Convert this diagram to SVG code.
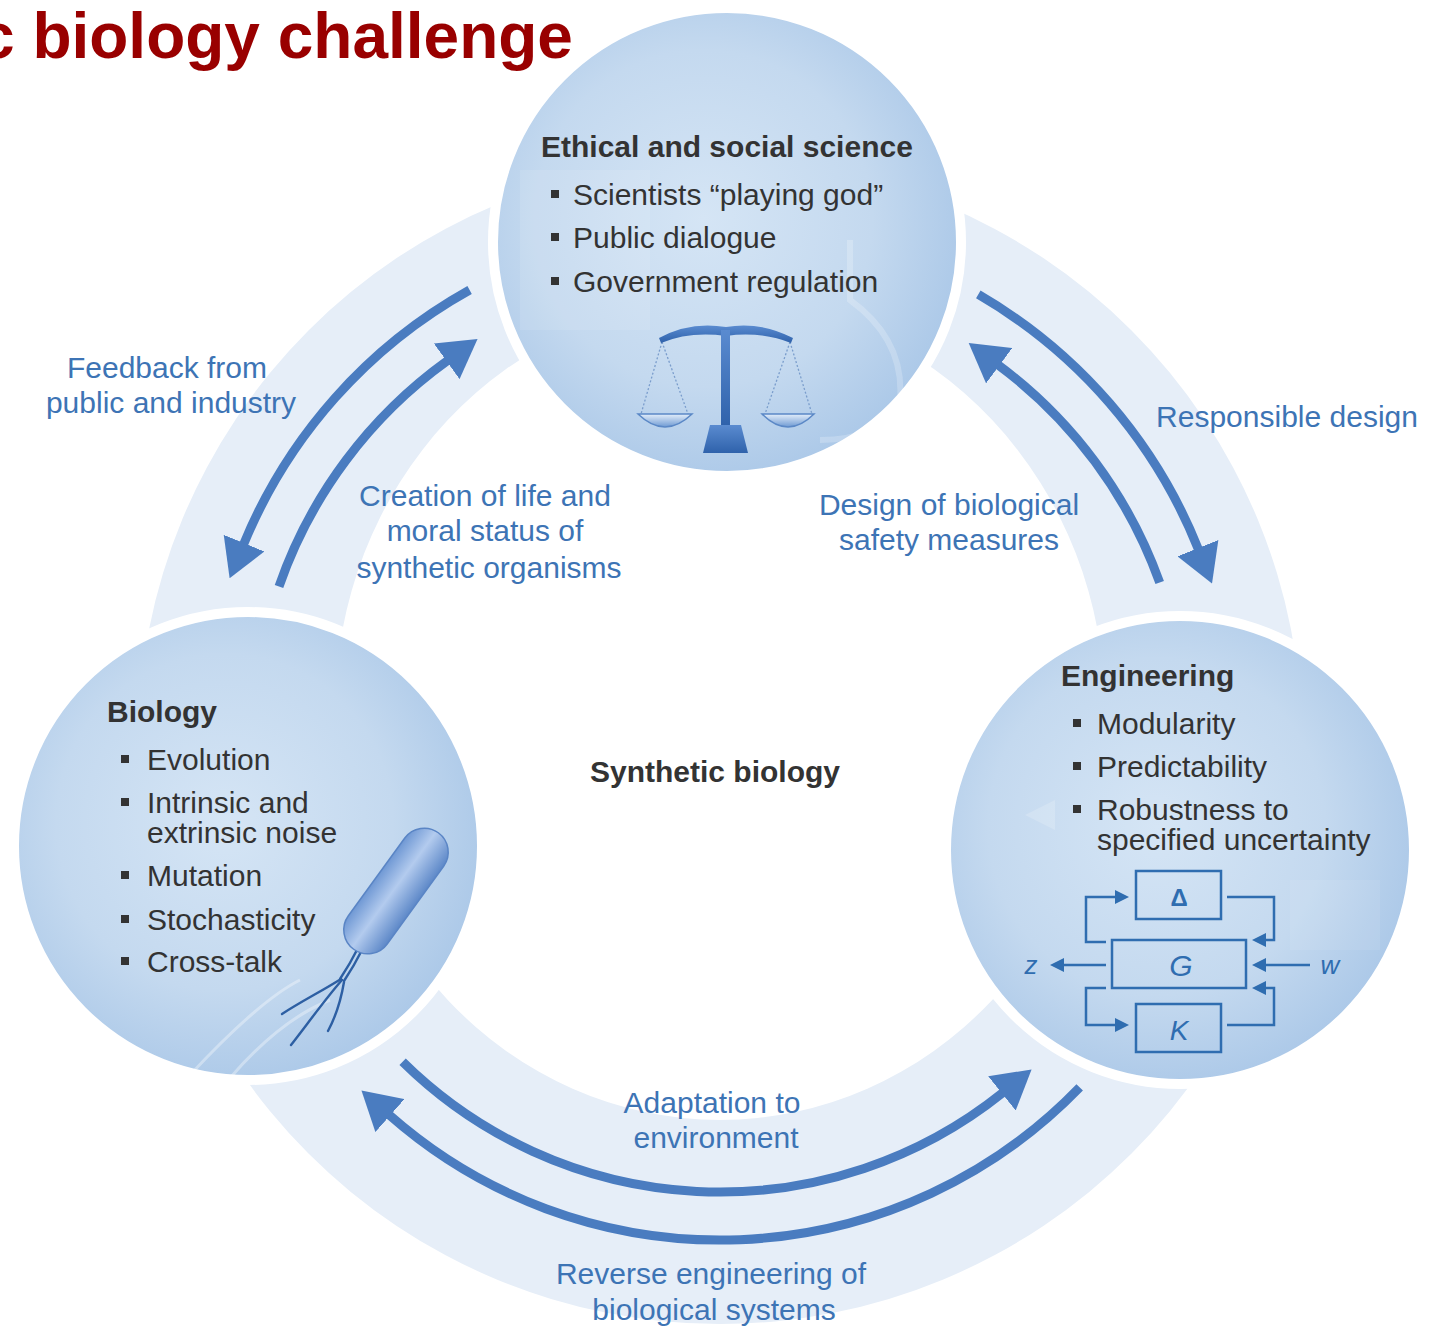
<svg xmlns="http://www.w3.org/2000/svg" width="1430" height="1327" viewBox="0 0 1430 1327">
  <defs>
    <radialGradient id="disc" cx="0.45" cy="0.45" r="0.6">
      <stop offset="0" stop-color="#d5e5f5"/>
      <stop offset="0.6" stop-color="#c4d9ef"/>
      <stop offset="1" stop-color="#a8c6e7"/>
    </radialGradient>
    <linearGradient id="cell" x1="0" y1="0" x2="0" y2="1">
      <stop offset="0" stop-color="#6f98d4"/>
      <stop offset="0.45" stop-color="#b3cbee"/>
      <stop offset="1" stop-color="#5d88c8"/>
    </linearGradient>
    <linearGradient id="metal" x1="0" y1="0" x2="0" y2="1">
      <stop offset="0" stop-color="#5a8bd0"/>
      <stop offset="1" stop-color="#2f62ab"/>
    </linearGradient>
    <linearGradient id="pan" x1="0" y1="0" x2="0" y2="1">
      <stop offset="0" stop-color="#e3eefa"/>
      <stop offset="1" stop-color="#6f9ad3"/>
    </linearGradient>
    <marker id="head" viewBox="0 0 38 44" markerWidth="38" markerHeight="44" refX="1" refY="22" orient="auto" markerUnits="userSpaceOnUse">
      <path d="M0,0 L38,22 L0,44 Z" fill="#4a7cc0"/>
    </marker>
    <marker id="tip" viewBox="0 0 14 14" markerWidth="14" markerHeight="14" refX="1" refY="7" orient="auto" markerUnits="userSpaceOnUse">
      <path d="M0,0 L14,7 L0,14 Z" fill="#2f6db0"/>
    </marker>
  </defs>
  <style>
    .dark { font-family: "Liberation Sans", Arial, sans-serif; font-size: 30px; fill: #333333; }
    .head { font-weight: bold; }
    .lbl { font-family: "Liberation Sans", Arial, sans-serif; font-size: 30px; fill: #3d74b5; text-anchor: middle; }
    .disc { fill: url(#disc); stroke: #ffffff; stroke-width: 10; }
    .bul { fill: #333333; }
    .arc { fill: none; stroke: #4a7cc0; stroke-width: 9; marker-end: url(#head); }
    .box { fill: none; stroke: #2f6db0; stroke-width: 2.5; }
    .wire { fill: none; stroke: #2f6db0; stroke-width: 2.5; }
    .sym { font-family: "Liberation Sans", Arial, sans-serif; fill: #2f6db0; text-anchor: middle; }
  </style>

  <rect width="1430" height="1327" fill="#ffffff"/>

  <!-- heading, running off the left edge of the page -->
  <text x="-21" y="58" font-family="Liberation Sans, Arial, sans-serif" font-size="64" font-weight="bold" fill="#990000">c biology challenge</text>

  <!-- pale band that joins the three fields -->
  <path fill="#e6eef8" fill-rule="evenodd" d="M138,742 A582,582 0 1,0 1302,742 A582,582 0 1,0 138,742 Z M335,710 A385,410 0 1,0 1105,710 A385,410 0 1,0 335,710 Z"/>

  <!-- connectors -->
  <g id="connectors">
    <path class="arc" d="M469.6,290 A515,515 0 0,0 243.7,544.1"/>
    <path class="arc" d="M279,586.4 A467,467 0 0,1 447.5,360.7"/>
    <path class="arc" d="M978.3,294.4 A515,515 0 0,1 1198.3,549.1"/>
    <path class="arc" d="M1159.7,582.6 A467,467 0 0,0 998.4,365.1"/>
    <path class="arc" d="M402.6,1061.8 A452,452 0 0,0 1002.7,1092.7"/>
    <path class="arc" d="M1079.7,1087.4 A500,500 0 0,1 389.2,1114.9"/>
  </g>

  <!-- connector labels -->
  <g id="labels">
    <text class="lbl" x="167" y="378">Feedback from</text>
    <text class="lbl" x="171" y="413">public and industry</text>
    <text class="lbl" x="485" y="506">Creation of life and</text>
    <text class="lbl" x="485" y="541">moral status of</text>
    <text class="lbl" x="489" y="578">synthetic organisms</text>
    <text class="lbl" x="949" y="515">Design of biological</text>
    <text class="lbl" x="949" y="550">safety measures</text>
    <text class="lbl" x="1287" y="427">Responsible design</text>
    <text class="lbl" x="712" y="1113">Adaptation to</text>
    <text class="lbl" x="716" y="1148">environment</text>
    <text class="lbl" x="711" y="1284">Reverse engineering of</text>
    <text class="lbl" x="714" y="1320">biological systems</text>
  </g>

  <!-- Ethical and social science -->
  <g id="ethics">
    <circle class="disc" cx="727" cy="242" r="234"/>
    <path d="M520,170 H650 V330 H520 Z" fill="#ffffff" opacity="0.1"/>
    <path d="M850,240 V300 Q905,340 900,400 Q880,440 820,440" fill="none" stroke="#ffffff" stroke-width="6" opacity="0.22"/>
    <text class="dark head" x="541" y="157" font-size="29.5">Ethical and social science</text>
    <rect class="bul" x="551" y="190" width="8" height="8"/>
    <text class="dark" x="573" y="205">Scientists “playing god”</text>
    <rect class="bul" x="551" y="233" width="8" height="8"/>
    <text class="dark" x="573" y="248">Public dialogue</text>
    <rect class="bul" x="551" y="277" width="8" height="8"/>
    <text class="dark" x="573" y="292">Government regulation</text>
    <!-- balance scale -->
    <g id="scale">
      <g fill="none" stroke="#7a9dcc" stroke-width="1.3" stroke-dasharray="2 2">
        <path d="M662,342 L641,414 M662,342 L688,414 M790,342 L765,414 M790,342 L812,414"/>
      </g>
      <path d="M638,414 Q665,440 692,414 Z" fill="url(#pan)" stroke="#5b88c6" stroke-width="1.5"/>
      <path d="M762,414 Q788,440 814,414 Z" fill="url(#pan)" stroke="#5b88c6" stroke-width="1.5"/>
      <path d="M659,338 Q690,321 726,327 Q760,321 793,338 L791,343 Q760,331 726,336 Q690,331 661,343 Z" fill="url(#metal)"/>
      <rect x="721" y="330" width="9" height="96" fill="url(#metal)"/>
      <path d="M710,425 H741 L748,453 H703 Z" fill="url(#metal)"/>
    </g>
  </g>

  <!-- Biology -->
  <g id="biology">
    <circle class="disc" cx="248" cy="846" r="234"/>
    <path d="M190,1075 Q260,1000 300,980 M230,1078 Q280,1020 330,1000" fill="none" stroke="#ffffff" stroke-width="3" opacity="0.35"/>
    <text class="dark head" x="107" y="722">Biology</text>
    <rect class="bul" x="121" y="755" width="8" height="8"/>
    <text class="dark" x="147" y="770">Evolution</text>
    <rect class="bul" x="121" y="798" width="8" height="8"/>
    <text class="dark" x="147" y="813">Intrinsic and</text>
    <text class="dark" x="147" y="843">extrinsic noise</text>
    <rect class="bul" x="121" y="871" width="8" height="8"/>
    <text class="dark" x="147" y="886">Mutation</text>
    <rect class="bul" x="121" y="915" width="8" height="8"/>
    <text class="dark" x="147" y="930">Stochasticity</text>
    <rect class="bul" x="121" y="957" width="8" height="8"/>
    <text class="dark" x="147" y="972">Cross-talk</text>
    <!-- bacterium -->
    <g id="bacterium">
      <g fill="none" stroke="#2d5fa3" stroke-width="2.4" stroke-linecap="round">
        <path d="M358,948 C352,960 346,970 340,979"/>
        <path d="M362,950 C356,962 350,972 344,981"/>
        <path d="M341,979 C322,991 302,1001 282,1014"/>
        <path d="M342,980 C326,998 306,1026 291,1045"/>
        <path d="M344,982 C341,1000 336,1016 328,1031"/>
      </g>
      <rect x="-72" y="-24" width="144" height="48" rx="24" transform="translate(396,891) rotate(-54)" fill="url(#cell)" stroke="#5a85c5" stroke-width="1.5"/>
    </g>
  </g>

  <!-- Engineering -->
  <g id="engineering">
    <circle class="disc" cx="1180" cy="850" r="234"/>
    <path d="M1025,815 L1055,800 V830 Z" fill="#ffffff" opacity="0.18"/>
    <rect x="1290" y="880" width="90" height="70" fill="#ffffff" opacity="0.08"/>
    <text class="dark head" x="1061" y="686">Engineering</text>
    <rect class="bul" x="1073" y="719" width="8" height="8"/>
    <text class="dark" x="1097" y="734">Modularity</text>
    <rect class="bul" x="1073" y="762" width="8" height="8"/>
    <text class="dark" x="1097" y="777">Predictability</text>
    <rect class="bul" x="1073" y="805" width="8" height="8"/>
    <text class="dark" x="1097" y="820">Robustness to</text>
    <text class="dark" x="1097" y="850">specified uncertainty</text>
    <!-- feedback block diagram -->
    <g id="blocks">
      <rect class="box" x="1136" y="871" width="85" height="48"/>
      <rect class="box" x="1112" y="940" width="134" height="48"/>
      <rect class="box" x="1136" y="1004" width="85" height="48"/>
      <text class="sym" x="1179" y="906" font-size="24" font-weight="bold">Δ</text>
      <text class="sym" x="1181" y="976" font-size="30" font-style="italic">G</text>
      <text class="sym" x="1179" y="1040" font-size="28" font-style="italic">K</text>
      <text class="sym" x="1031" y="974" font-size="26" font-style="italic">z</text>
      <text class="sym" x="1330" y="974" font-size="26" font-style="italic">w</text>
      <g marker-end="url(#tip)">
        <path class="wire" d="M1106,942 H1086 V897 H1116"/>
        <path class="wire" d="M1227,897 H1274 V940 H1265"/>
        <path class="wire" d="M1310,965 H1265"/>
        <path class="wire" d="M1227,1025 H1274 V988 H1265"/>
        <path class="wire" d="M1106,988 H1086 V1025 H1116"/>
        <path class="wire" d="M1106,965 H1063"/>
      </g>
    </g>
  </g>

  <text class="dark head" x="590" y="782">Synthetic biology</text>
</svg>
